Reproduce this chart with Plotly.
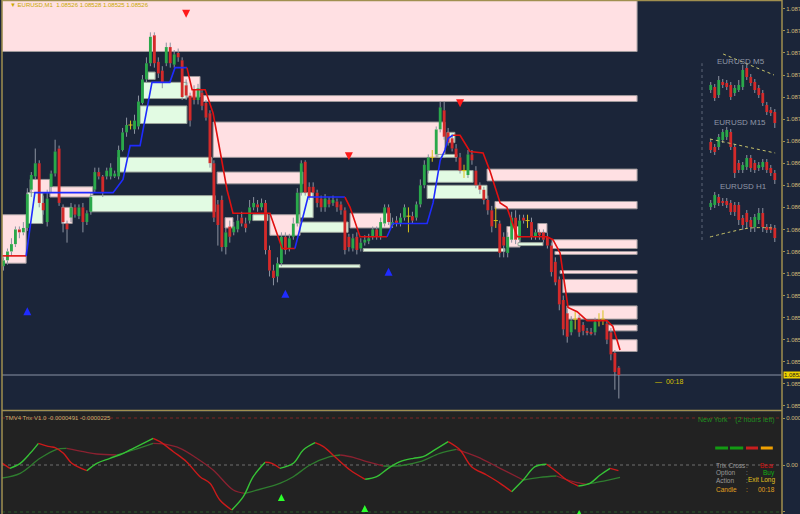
import numpy as np
import plotly.graph_objects as go

# ---------------- EURUSD M1 candles (bar index 0..155) ----------------
open_ = [
1.08600, 1.08604, 1.08610, 1.08615, 1.08625, 1.08623, 1.08626, 1.08652, 1.08661, 1.08670,
1.08643, 1.08630, 1.08654, 1.08663, 1.08680, 1.08640, 1.08629, 1.08633, 1.08640, 1.08634,
1.08640, 1.08630, 1.08637, 1.08652, 1.08664, 1.08661, 1.08661, 1.08661, 1.08661, 1.08661,
1.08679, 1.08691, 1.08696, 1.08693, 1.08695, 1.08711, 1.08727, 1.08738, 1.08757, 1.08739,
1.08733, 1.08738, 1.08749, 1.08737, 1.08745, 1.08740, 1.08723, 1.08716, 1.08720, 1.08713,
1.08718, 1.08711, 1.08704, 1.08670, 1.08642, 1.08645, 1.08613, 1.08627, 1.08623, 1.08625,
1.08633, 1.08629, 1.08631, 1.08640, 1.08642, 1.08640, 1.08643, 1.08611, 1.08597, 1.08593,
1.08602, 1.08620, 1.08612, 1.08620, 1.08629, 1.08650, 1.08671, 1.08654, 1.08654, 1.08650,
1.08646, 1.08640, 1.08645, 1.08643, 1.08644, 1.08642, 1.08638, 1.08620, 1.08612, 1.08620,
1.08612, 1.08616, 1.08617, 1.08620, 1.08625, 1.08620, 1.08629, 1.08640, 1.08628, 1.08631,
1.08629, 1.08633, 1.08634, 1.08634, 1.08633, 1.08642, 1.08655, 1.08665, 1.08674, 1.08676,
1.08693, 1.08706, 1.08691, 1.08687, 1.08680, 1.08674, 1.08665, 1.08662, 1.08676, 1.08665,
1.08655, 1.08652, 1.08645, 1.08638, 1.08631, 1.08629, 1.08620, 1.08609, 1.08618, 1.08633,
1.08618, 1.08633, 1.08631, 1.08630, 1.08620, 1.08623, 1.08623, 1.08620, 1.08614, 1.08603,
1.08591, 1.08577, 1.08568, 1.08555, 1.08564, 1.08565, 1.08560, 1.08556, 1.08555, 1.08555,
1.08563, 1.08564, 1.08561, 1.08555, 1.08541, 1.08531]
high = [
1.08606, 1.08612, 1.08619, 1.08627, 1.08627, 1.08630, 1.08653, 1.08664, 1.08680, 1.08672,
1.08648, 1.08652, 1.08665, 1.08686, 1.08682, 1.08642, 1.08631, 1.08643, 1.08642, 1.08642,
1.08643, 1.08638, 1.08650, 1.08667, 1.08667, 1.08662, 1.08667, 1.08670, 1.08665, 1.08682,
1.08694, 1.08701, 1.08699, 1.08703, 1.08716, 1.08730, 1.08742, 1.08759, 1.08759, 1.08742,
1.08736, 1.08752, 1.08752, 1.08747, 1.08748, 1.08742, 1.08727, 1.08718, 1.08723, 1.08724,
1.08720, 1.08713, 1.08706, 1.08672, 1.08645, 1.08648, 1.08626, 1.08631, 1.08630, 1.08635,
1.08637, 1.08633, 1.08645, 1.08647, 1.08645, 1.08646, 1.08645, 1.08614, 1.08601, 1.08606,
1.08623, 1.08623, 1.08622, 1.08633, 1.08653, 1.08672, 1.08672, 1.08657, 1.08657, 1.08652,
1.08648, 1.08649, 1.08647, 1.08648, 1.08646, 1.08644, 1.08640, 1.08622, 1.08622, 1.08623,
1.08619, 1.08621, 1.08622, 1.08627, 1.08627, 1.08633, 1.08642, 1.08642, 1.08633, 1.08634,
1.08636, 1.08642, 1.08640, 1.08637, 1.08644, 1.08659, 1.08672, 1.08676, 1.08679, 1.08695,
1.08712, 1.08712, 1.08694, 1.08690, 1.08683, 1.08677, 1.08669, 1.08679, 1.08679, 1.08668,
1.08657, 1.08654, 1.08648, 1.08641, 1.08640, 1.08631, 1.08623, 1.08623, 1.08637, 1.08638,
1.08635, 1.08635, 1.08635, 1.08633, 1.08625, 1.08625, 1.08625, 1.08623, 1.08616, 1.08606,
1.08593, 1.08580, 1.08571, 1.08566, 1.08569, 1.08567, 1.08562, 1.08558, 1.08558, 1.08565,
1.08568, 1.08570, 1.08563, 1.08558, 1.08543, 1.08532]
low = [
1.08597, 1.08601, 1.08607, 1.08613, 1.08619, 1.08621, 1.08624, 1.08647, 1.08659, 1.08640,
1.08635, 1.08627, 1.08650, 1.08661, 1.08641, 1.08623, 1.08616, 1.08630, 1.08633, 1.08632,
1.08623, 1.08628, 1.08635, 1.08650, 1.08659, 1.08647, 1.08659, 1.08659, 1.08660, 1.08659,
1.08678, 1.08688, 1.08693, 1.08690, 1.08693, 1.08710, 1.08725, 1.08736, 1.08735, 1.08728,
1.08721, 1.08736, 1.08735, 1.08735, 1.08739, 1.08713, 1.08713, 1.08695, 1.08710, 1.08710,
1.08706, 1.08699, 1.08667, 1.08630, 1.08614, 1.08610, 1.08608, 1.08616, 1.08621, 1.08623,
1.08627, 1.08623, 1.08629, 1.08638, 1.08637, 1.08638, 1.08608, 1.08593, 1.08587, 1.08589,
1.08600, 1.08608, 1.08610, 1.08618, 1.08627, 1.08648, 1.08648, 1.08645, 1.08647, 1.08640,
1.08637, 1.08637, 1.08640, 1.08641, 1.08637, 1.08635, 1.08608, 1.08610, 1.08610, 1.08608,
1.08610, 1.08614, 1.08615, 1.08618, 1.08618, 1.08618, 1.08627, 1.08628, 1.08626, 1.08627,
1.08627, 1.08631, 1.08623, 1.08629, 1.08631, 1.08640, 1.08653, 1.08663, 1.08671, 1.08674,
1.08691, 1.08686, 1.08682, 1.08678, 1.08671, 1.08663, 1.08660, 1.08660, 1.08669, 1.08653,
1.08649, 1.08642, 1.08635, 1.08623, 1.08626, 1.08606, 1.08606, 1.08606, 1.08616, 1.08615,
1.08616, 1.08629, 1.08626, 1.08618, 1.08618, 1.08618, 1.08616, 1.08612, 1.08593, 1.08587,
1.08570, 1.08553, 1.08548, 1.08553, 1.08557, 1.08552, 1.08553, 1.08553, 1.08553, 1.08553,
1.08559, 1.08560, 1.08547, 1.08536, 1.08516, 1.08510]
close = [
1.08604, 1.08610, 1.08615, 1.08625, 1.08623, 1.08626, 1.08649, 1.08662, 1.08670, 1.08643,
1.08638, 1.08646, 1.08663, 1.08678, 1.08643, 1.08630, 1.08625, 1.08640, 1.08635, 1.08640,
1.08630, 1.08636, 1.08647, 1.08664, 1.08661, 1.08650, 1.08665, 1.08667, 1.08663, 1.08679,
1.08691, 1.08696, 1.08696, 1.08699, 1.08712, 1.08727, 1.08738, 1.08756, 1.08738, 1.08731,
1.08725, 1.08749, 1.08738, 1.08744, 1.08742, 1.08715, 1.08716, 1.08699, 1.08713, 1.08721,
1.08709, 1.08701, 1.08670, 1.08633, 1.08628, 1.08613, 1.08623, 1.08620, 1.08627, 1.08631,
1.08629, 1.08626, 1.08640, 1.08643, 1.08640, 1.08643, 1.08611, 1.08597, 1.08592, 1.08602,
1.08620, 1.08611, 1.08619, 1.08629, 1.08650, 1.08670, 1.08650, 1.08647, 1.08650, 1.08643,
1.08640, 1.08646, 1.08642, 1.08645, 1.08640, 1.08638, 1.08611, 1.08613, 1.08619, 1.08611,
1.08616, 1.08618, 1.08619, 1.08625, 1.08620, 1.08630, 1.08640, 1.08630, 1.08630, 1.08629,
1.08633, 1.08640, 1.08634, 1.08631, 1.08642, 1.08655, 1.08669, 1.08674, 1.08674, 1.08693,
1.08708, 1.08688, 1.08684, 1.08680, 1.08674, 1.08665, 1.08665, 1.08676, 1.08672, 1.08655,
1.08652, 1.08645, 1.08638, 1.08627, 1.08631, 1.08609, 1.08614, 1.08620, 1.08633, 1.08618,
1.08631, 1.08631, 1.08631, 1.08620, 1.08623, 1.08621, 1.08618, 1.08614, 1.08596, 1.08589,
1.08574, 1.08557, 1.08552, 1.08563, 1.08564, 1.08555, 1.08556, 1.08555, 1.08554, 1.08562,
1.08563, 1.08564, 1.08550, 1.08540, 1.08528, 1.08526]
current_price = 1.08526

# ---------------- supply / demand zones (bar index, price) ----------------
supply_x0 = [-0.4, 50.3, 52.8, 45.2, 53.8, 67.1, 87.3, -0.4, 6.7, 11.7, 14.7, 55.8, 121.8, 123.8,
             134.6, 138.2, 138.9, 140.2, 140.9, 141.9, 152.3, 153.3, 126.8]
supply_x1 = [159.6, 159.6, 111.2, 49.5, 75.4, 74.7, 97.4, 5.7, 11.7, 22.5, 17.3, 57.8, 159.6, 159.6,
             136.9, 159.6, 159.6, 159.6, 159.6, 159.6, 159.6, 159.6, 130.1]
supply_hi = [1.08790, 1.08716, 1.08698, 1.08729, 1.08664, 1.08635, 1.08636, 1.08635, 1.08659, 1.08654,
             1.08640, 1.08633, 1.08666, 1.08644, 1.08629, 1.08618, 1.08610, 1.08597, 1.08591, 1.08573,
             1.08560, 1.08550, 1.08627]
supply_lo = [1.08746, 1.08712, 1.08674, 1.08715, 1.08656, 1.08621, 1.08626, 1.08602, 1.08650, 1.08647,
             1.08629, 1.08626, 1.08658, 1.08639, 1.08623, 1.08612, 1.08608, 1.08595, 1.08582, 1.08564,
             1.08556, 1.08542, 1.08613]
demand_x0 = [35.1, 34.4, 28.8, 21.8, 36.4, 5.9, 62.8, 74.7, 74.7, 69.1, 90.6, 106.9, 106.7, 111.7, 109.4, 129.6]
demand_x1 = [46.2, 46.2, 52.5, 53.3, 38.2, 9.9, 66.6, 78.0, 86.8, 89.8, 126.3, 118.3, 121.8, 113.7, 114.2, 135.9]
demand_hi = [1.08725, 1.08709, 1.08674, 1.08648, 1.08732, 1.08650, 1.08635, 1.08650, 1.08630, 1.08601,
             1.08612, 1.08665, 1.08655, 1.08691, 1.08676, 1.08616]
demand_lo = [1.08714, 1.08697, 1.08664, 1.08637, 1.08727, 1.08629, 1.08631, 1.08633, 1.08623, 1.08599,
             1.08610, 1.08657, 1.08646, 1.08684, 1.08674, 1.08614]

# ---------------- trend line (1 = up / blue segment, 0 = down / red segment) ----------------
trend_x = [-0.4, 5.7, 7.9, 27.6, 30.1, 31.9, 34.4, 37.4, 41.9, 43.2, 46.2, 47.5, 50.8, 52.8, 54.5, 56.3,
           57.8, 67.1, 70.2, 73.4, 76.7, 86.0, 87.3, 89.8, 96.6, 98.1, 106.7, 108.2, 110.0, 111.2, 112.0,
           113.2, 115.0, 117.5, 120.8, 122.5, 125.1, 126.8, 129.4, 136.9, 138.4, 140.2, 142.2, 144.5,
           147.0, 152.0, 153.5, 155.3]
trend_y = [1.08607, 1.08607, 1.08650, 1.08650, 1.08659, 1.08682, 1.08682, 1.08725, 1.08725, 1.08735,
           1.08735, 1.08720, 1.08720, 1.08704, 1.08679, 1.08652, 1.08636, 1.08636, 1.08612, 1.08612,
           1.08647, 1.08647, 1.08640, 1.08620, 1.08620, 1.08629, 1.08629, 1.08643, 1.08672, 1.08679,
           1.08687, 1.08689, 1.08689, 1.08678, 1.08677, 1.08665, 1.08643, 1.08640, 1.08620, 1.08620,
           1.08618, 1.08609, 1.08572, 1.08569, 1.08563, 1.08563, 1.08559, 1.08543]
trend_up = [0, 1, 1, 1, 1, 1, 1, 1, 1, 1, 0, 0, 0, 0, 0, 0, 0, 0, 0, 1, 1, 0, 0, 0, 1, 1, 1, 1, 1, 1, 1,
            0, 0, 0, 0, 0, 0, 0, 0, 0, 0, 0, 0, 0, 0, 0, 0]

# signal arrows
sell_x = [46, 87, 115]
sell_y = [1.08769, 1.08672, 1.08708]
buy_x = [6, 71, 97]
buy_y = [1.08572, 1.08584, 1.08599]

# ---------------- Trix indicator (lower panel) ----------------
fast_x = [-0.9, 1.6, 4.2, 6.7, 8.8, 11.7, 13.0, 15.1, 17.2, 21.0, 23.5, 26.8, 30.2, 32.7, 35.2, 37.7,
          39.4, 42.8, 46.1, 49.5, 52.0, 54.5, 57.5, 60.4, 62.9, 65.9, 67.6, 69.6, 73.0, 75.5, 78.5,
          80.6, 83.9, 87.3, 91.1, 94.0, 96.9, 99.9, 103.2, 105.7, 108.3, 112.0, 115.0, 117.9, 121.7,
          125.1, 128.0, 130.9, 133.9, 136.8, 139.3, 141.9, 144.8, 147.7, 150.3, 152.8, 154.9]
fast_v = [1.76e-5, -1.76e-5, 0.90e-5, 6.22e-5, 11.54e-5, 9.74e-5, 9.20e-5, 6.22e-5, 0.90e-5, -3.03e-5,
          0.90e-5, 3.56e-5, 6.22e-5, 8.88e-5, 11.54e-5, 14.20e-5, 12.40e-5, 7.08e-5, 1.76e-5, -6.22e-5,
          -9.74e-5, -18.62e-5, -23.94e-5, -16.86e-5, -6.22e-5, 1.44e-5, 0.90e-5, -1.76e-5, 0.90e-5,
          7.98e-5, 11.86e-5, 9.74e-5, 3.56e-5, -2.66e-5, -7.61e-5, -6.22e-5, -1.76e-5, 1.76e-5, 3.56e-5,
          4.42e-5, 7.61e-5, 12.40e-5, 7.98e-5, -0.90e-5, -5.32e-5, -9.74e-5, -14.20e-5, -7.98e-5,
          -0.90e-5, 0.37e-5, -3.56e-5, -7.98e-5, -11.17e-5, -9.74e-5, -5.32e-5, -1.76e-5, -3.03e-5]
slow_x = [-0.9, 4.2, 9.2, 13.4, 15.9, 20.1, 23.5, 28.5, 32.7, 37.7, 40.3, 44.5, 48.7, 52.8, 57.9, 60.8,
          65.4, 69.6, 73.0, 77.2, 82.2, 84.8, 88.1, 91.5, 95.7, 99.9, 104.9, 109.9, 114.1, 119.2, 125.1,
          130.9, 135.1, 139.3, 143.5, 146.9, 150.3, 155.3]
slow_v = [-7.08e-5, -4.42e-5, 3.56e-5, 8.35e-5, 8.88e-5, 7.08e-5, 5.85e-5, 5.32e-5, 7.98e-5, 11.54e-5,
          11.20e-5, 8.88e-5, 3.56e-5, -2.66e-5, -13.30e-5, -15.06e-5, -12.40e-5, -9.74e-5, -6.22e-5,
          0.0, 4.42e-5, 5.32e-5, 4.10e-5, 1.76e-5, -0.53e-5, -0.40e-5, 1.76e-5, 6.22e-5, 8.35e-5,
          4.42e-5, -1.76e-5, -7.98e-5, -6.54e-5, -5.85e-5, -8.88e-5, -10.27e-5, -8.88e-5, -6.54e-5]
trix_buy_x = [70, 91, 145]
trix_buy_v = [-15.4e-5, -21.3e-5, -23.9e-5]
trix_levels = [0.00025, 0.0, -0.00025]

# ---------------- mini multi-timeframe charts ----------------
m5_o = [1.08580, 1.08583, 1.08575, 1.08588, 1.08587, 1.08585, 1.08577, 1.08580, 1.08583, 1.08602,
        1.08593, 1.08588, 1.08582, 1.08577, 1.08565, 1.08560, 1.08558]
m5_h = [1.08588, 1.08586, 1.08594, 1.08591, 1.08590, 1.08588, 1.08585, 1.08590, 1.08605, 1.08606,
        1.08596, 1.08591, 1.08585, 1.08580, 1.08568, 1.08563, 1.08561]
m5_l = [1.08577, 1.08569, 1.08572, 1.08582, 1.08580, 1.08570, 1.08574, 1.08578, 1.08580, 1.08590,
        1.08584, 1.08577, 1.08572, 1.08564, 1.08555, 1.08554, 1.08542]
m5_c = [1.08585, 1.08572, 1.08590, 1.08585, 1.08583, 1.08573, 1.08582, 1.08585, 1.08600, 1.08593,
        1.08587, 1.08580, 1.08575, 1.08567, 1.08558, 1.08557, 1.08547]
m5_trend_x = [3.1, 15.8]
m5_trend_y = [1.08616, 1.08595]

m15_o = [1.08658, 1.08653, 1.08653, 1.08660, 1.08663, 1.08668, 1.08653, 1.08637, 1.08630, 1.08633,
         1.08642, 1.08637, 1.08632, 1.08633, 1.08638, 1.08632, 1.08627]
m15_h = [1.08661, 1.08656, 1.08666, 1.08671, 1.08673, 1.08671, 1.08656, 1.08640, 1.08638, 1.08645,
         1.08645, 1.08640, 1.08638, 1.08641, 1.08641, 1.08635, 1.08630]
m15_l = [1.08647, 1.08645, 1.08650, 1.08657, 1.08660, 1.08650, 1.08622, 1.08627, 1.08627, 1.08630,
         1.08628, 1.08627, 1.08629, 1.08630, 1.08627, 1.08624, 1.08616]
m15_c = [1.08650, 1.08648, 1.08663, 1.08668, 1.08670, 1.08653, 1.08627, 1.08630, 1.08635, 1.08642,
         1.08632, 1.08630, 1.08635, 1.08638, 1.08630, 1.08627, 1.08620]
m15_trend_x = [-0.2, 16.1]
m15_trend_y = [1.08661, 1.08647]

h1_o = [1.08673, 1.08675, 1.08683, 1.08679, 1.08679, 1.08677, 1.08675, 1.08675, 1.08662, 1.08667,
        1.08660, 1.08653, 1.08660, 1.08667, 1.08653, 1.08653, 1.08652]
h1_h = [1.08680, 1.08688, 1.08686, 1.08682, 1.08682, 1.08680, 1.08678, 1.08678, 1.08665, 1.08670,
        1.08663, 1.08666, 1.08672, 1.08672, 1.08656, 1.08656, 1.08655]
h1_l = [1.08670, 1.08672, 1.08674, 1.08674, 1.08672, 1.08665, 1.08664, 1.08655, 1.08650, 1.08652,
        1.08648, 1.08648, 1.08656, 1.08648, 1.08647, 1.08647, 1.08638]
h1_c = [1.08677, 1.08685, 1.08677, 1.08677, 1.08675, 1.08668, 1.08668, 1.08660, 1.08655, 1.08658,
        1.08653, 1.08663, 1.08667, 1.08653, 1.08650, 1.08650, 1.08642]
h1_trend_x = [-0.2, 4.8, 9.8, 16.1]
h1_trend_y = [1.08643, 1.08648, 1.08652, 1.08652]

price_ticks = [1.08775, 1.08760, 1.08745, 1.08730, 1.08715, 1.08700, 1.08685, 1.08670, 1.08655, 1.08640,
               1.08625, 1.08610, 1.08595, 1.08580, 1.08565, 1.08550, 1.08535, 1.08520, 1.08505]
price_tick_text = ['1.0877', '1.0876', '1.0874', '1.0873', '1.0871', '1.0870', '1.0868', '1.0867', '1.0865',
                   '1.0864', '1.0862', '1.0861', '1.0859', '1.0858', '1.0856', '1.0855', '1.0853', '1.0852',
                   '1.0850']
trix_ticks = [0.00025, 0.0, -0.00025]
trix_tick_text = ['0.00025', '0.00', '-0.0002']

# ---------------- styling ----------------
NAVY = '#1b2539'
GOLD = '#a08f4f'
LABEL = '#cdbd7a'
UP = '#2aa84a'
DN = '#d42a2a'
WICK = '#8c93a1'
DOJI = '#d8c21a'
PINK = '#ffe0e3'
GREENZ = '#e2fbe3'
FONT = 'Liberation Sans, Arial, sans-serif'

fig = go.Figure()


def add_candles(xs, o, h, l, c, xa, ya, bw):
    xs = np.asarray(xs, dtype=float)
    o, h, l, c = (np.asarray(v, dtype=float) for v in (o, h, l, c))
    doji = o == c
    top = np.maximum(o, c)
    bot = np.minimum(o, c)
    wx, wy, dx, dy = [], [], [], []
    for i in range(len(o)):
        if doji[i]:
            dx += [xs[i], xs[i], None]
            dy += [l[i], h[i], None]
        else:
            # wick parts outside the body only
            wx += [xs[i], xs[i], None, xs[i], xs[i], None]
            wy += [l[i], bot[i], None, top[i], h[i], None]
    fig.add_trace(go.Scatter(x=wx, y=wy, mode='lines', line=dict(color=WICK, width=1),
                             xaxis=xa, yaxis=ya, hoverinfo='skip', showlegend=False))
    if dx:
        fig.add_trace(go.Scatter(x=dx, y=dy, mode='lines', line=dict(color=DOJI, width=1),
                                 xaxis=xa, yaxis=ya, hoverinfo='skip', showlegend=False))
        fig.add_trace(go.Scatter(x=xs[doji], y=o[doji], mode='markers',
                                 marker=dict(symbol='line-ew', size=3, line=dict(width=1, color=DOJI)),
                                 xaxis=xa, yaxis=ya, hoverinfo='skip', showlegend=False))
    nd = ~doji
    fig.add_trace(go.Bar(x=xs[nd], base=bot[nd], y=(top - bot)[nd], width=bw,
                         marker=dict(color=np.where(c > o, UP, DN)[nd], line=dict(width=0)),
                         xaxis=xa, yaxis=ya, hoverinfo='skip', showlegend=False))


def add_runs(xs, ys, states, col_up, col_dn, ya, width, shape='linear'):
    start = 0
    n = len(states)
    for k in range(1, n + 1):
        if k == n or states[k] != states[start]:
            fig.add_trace(go.Scatter(x=xs[start:k + 1], y=ys[start:k + 1], mode='lines',
                                     line=dict(color=col_up if states[start] else col_dn, width=width,
                                               shape=shape),
                                     xaxis='x', yaxis=ya, hoverinfo='skip', showlegend=False))
            start = k


# main candles
add_candles(list(range(len(open_))), open_, high, low, close, 'x', 'y', 0.72)

# trend line
add_runs(trend_x, trend_y, trend_up, '#1f2bff', '#e01010', 'y', 1.6)

# arrows
fig.add_trace(go.Scatter(x=sell_x, y=sell_y, mode='markers',
                         marker=dict(symbol='arrow-down', size=8, color='#ff1a1a'),
                         hoverinfo='skip', showlegend=False))
fig.add_trace(go.Scatter(x=buy_x, y=buy_y, mode='markers',
                         marker=dict(symbol='arrow-up', size=8, color='#1f2bff'),
                         hoverinfo='skip', showlegend=False))

# trix lines
fast_up = [int(fast_v[k + 1] >= fast_v[k]) for k in range(len(fast_v) - 1)]
slow_up = [int(slow_v[k + 1] >= slow_v[k]) for k in range(len(slow_v) - 1)]
add_runs(slow_x, slow_v, slow_up, '#2f7d2f', '#8a2130', 'y2', 1.3, 'spline')
add_runs(fast_x, fast_v, fast_up, '#36c236', '#cc1a1a', 'y2', 1.4, 'spline')
fig.add_trace(go.Scatter(x=trix_buy_x, y=trix_buy_v, mode='markers', xaxis='x', yaxis='y2',
                         marker=dict(symbol='arrow-up', size=7, color='#2cff2c'),
                         hoverinfo='skip', showlegend=False))

# mini charts
mini_idx = list(range(len(m5_o)))
add_candles(mini_idx, m5_o, m5_h, m5_l, m5_c, 'x2', 'y3', 0.7)
add_candles(mini_idx, m15_o, m15_h, m15_l, m15_c, 'x3', 'y4', 0.7)
add_candles(mini_idx, h1_o, h1_h, h1_l, h1_c, 'x4', 'y5', 0.7)
for tx, ty, xa, ya in ((m5_trend_x, m5_trend_y, 'x2', 'y3'), (m15_trend_x, m15_trend_y, 'x3', 'y4'),
                       (h1_trend_x, h1_trend_y, 'x4', 'y5')):
    fig.add_trace(go.Scatter(x=tx, y=ty, mode='lines', line=dict(color='#c9c46a', width=1, dash='dot',
                                                                 shape='spline'),
                             xaxis=xa, yaxis=ya, hoverinfo='skip', showlegend=False))

# ---------------- shapes ----------------
shapes = []
# lower panel background
shapes.append(dict(type='rect', xref='paper', yref='paper', x0=0.0025, x1=0.9775, y0=0, y1=0.19844,
                   fillcolor='#222222', line=dict(width=0), layer='below'))
for x0, x1, hi, lo in zip(supply_x0, supply_x1, supply_hi, supply_lo):
    shapes.append(dict(type='rect', xref='x', yref='y', x0=x0, x1=x1, y0=lo, y1=hi, fillcolor=PINK,
                       line=dict(color='#a09a9c', width=1), layer='below'))
for x0, x1, hi, lo in zip(demand_x0, demand_x1, demand_hi, demand_lo):
    shapes.append(dict(type='rect', xref='x', yref='y', x0=x0, x1=x1, y0=lo, y1=hi, fillcolor=GREENZ,
                       line=dict(color='#9aa29a', width=1), layer='below'))
# current price line
shapes.append(dict(type='line', xref='paper', yref='y', x0=0.0025, x1=0.9775, y0=current_price,
                   y1=current_price, line=dict(color='#8a93a5', width=1), layer='below'))
# trix levels
for lv, col in zip(trix_levels, ('#7a2424', '#6e6e6e', '#2c5a2c')):
    shapes.append(dict(type='line', xref='paper', yref='y2', x0=0.0025, x1=0.9775, y0=lv, y1=lv,
                       line=dict(color=col, width=1, dash='dot'), layer='below'))
# mini chart guide
shapes.append(dict(type='line', xref='paper', yref='paper', x0=0.8775, x1=0.8775, y0=0.533, y1=0.877,
                   line=dict(color='#5e6779', width=1, dash='dot')))
# legend dashes of the info panel
for xa, xb, col in ((0.894, 0.910, '#139a13'), (0.9125, 0.929, '#139a13'), (0.9325, 0.9475, '#c81e1e'),
                    (0.951, 0.966, '#f0a000')):
    shapes.append(dict(type='line', xref='paper', yref='paper', x0=xa, x1=xb, y0=0.1284, y1=0.1284,
                       line=dict(color=col, width=3)))
# gold frame
for s in (dict(x0=0.0025, x1=0.0025, y0=0, y1=1), dict(x0=0.9775, x1=0.9775, y0=0, y1=1),
          dict(x0=0.0025, x1=0.9775, y0=0.999, y1=0.999), dict(x0=0.0025, x1=0.9775, y0=0.2014, y1=0.2014)):
    shapes.append(dict(type='line', xref='paper', yref='paper', line=dict(color=GOLD, width=1.5), **s))

# ---------------- annotations ----------------
ann = []


def txt(x, y, t, col, size=7, xanchor='left', yref='paper', **kw):
    ann.append(dict(x=x, y=y, xref='paper', yref=yref, text=t, showarrow=False, xanchor=xanchor,
                    yanchor='middle', font=dict(family=FONT, size=size, color=col), **kw))


txt(0.01, 0.990, '▼ EURUSD,M1  1.08526 1.08528 1.08525 1.08526', '#c8a800', 6)
txt(0.979, current_price, '1.0852', '#1a1a1a', 6, yref='y', bgcolor='#f0d400', borderpad=0)
txt(0.816, 0.2587, '—  00:18', '#d8c000', 7)
txt(0.926, 0.8813, 'EURUSD M5', '#8f97a6', 8, xanchor='center')
txt(0.925, 0.7626, 'EURUSD M15', '#8f97a6', 8, xanchor='center')
txt(0.929, 0.6381, 'EURUSD H1', '#8f97a6', 8, xanchor='center')
txt(0.004, 0.1868, 'TMV4 Trix V1.0 -0.0000491 -0.0000225', '#c8b070', 6)
txt(0.971, 0.1829, 'New York    (2 hours left)', '#1f8f1f', 7, xanchor='right')
rows = [(0.0953, 'Trix Cross', 'Bear', '#9a9a9a', '#d01010'),
        (0.0798, 'Option', 'Buy', '#9a9a9a', '#10b010'),
        (0.0661, 'Action', 'Exit Long', '#9a9a9a', '#e0c020'),
        (0.0486, 'Candle', '00:18', '#e0a020', '#e0a020')]
for y, lab, val, c1, c2 in rows:
    txt(0.8925, y, lab, c1, 6.5)
    txt(0.930, y, ':', c1, 6.5)
    txt(0.971, y, val, c2, 6.5, xanchor='right')

fig.update_layout(
    width=800, height=514, margin=dict(l=0, r=0, t=0, b=0),
    paper_bgcolor=NAVY, plot_bgcolor='rgba(0,0,0,0)', showlegend=False, barmode='overlay',
    shapes=shapes, annotations=ann, hovermode=False,
    xaxis=dict(domain=[0.0025, 0.9775], range=[-0.38, 196.1], visible=False, fixedrange=True),
    yaxis=dict(domain=[0.20233, 1.0], range=[1.085022, 1.08781], side='right', anchor='x',
               tickvals=price_ticks, ticktext=price_tick_text, ticks='outside', ticklen=2, tickcolor=GOLD,
               tickfont=dict(family=FONT, size=6, color=LABEL), showgrid=False, zeroline=False,
               showline=False, automargin=False, fixedrange=True),
    yaxis2=dict(domain=[0.0, 0.19844], range=[-0.00026068, 0.00028196], side='right', anchor='x',
                tickvals=trix_ticks, ticktext=trix_tick_text, ticks='outside', ticklen=2, tickcolor=GOLD,
                tickfont=dict(family=FONT, size=6, color=LABEL), showgrid=False, zeroline=False,
                showline=False, automargin=False, fixedrange=True),
    xaxis2=dict(domain=[0.8825, 0.9725], range=[-1.18, 16.8], anchor='y3', visible=False),
    yaxis3=dict(domain=[0.7471, 0.9027], range=[1.08540, 1.08620], anchor='x2', visible=False),
    xaxis3=dict(domain=[0.8825, 0.9725], range=[-1.18, 16.8], anchor='y4', visible=False),
    yaxis4=dict(domain=[0.6401, 0.7704], range=[1.08615, 1.08682], anchor='x3', visible=False),
    xaxis4=dict(domain=[0.8825, 0.9725], range=[-1.18, 16.8], anchor='y5', visible=False),
    yaxis5=dict(domain=[0.5233, 0.6498], range=[1.08635, 1.08700], anchor='x4', visible=False),
)

fig.write_html("out.html", config={'displayModeBar': False},
               post_script="document.body.style.margin='0';document.body.style.background='#1b2539';")
